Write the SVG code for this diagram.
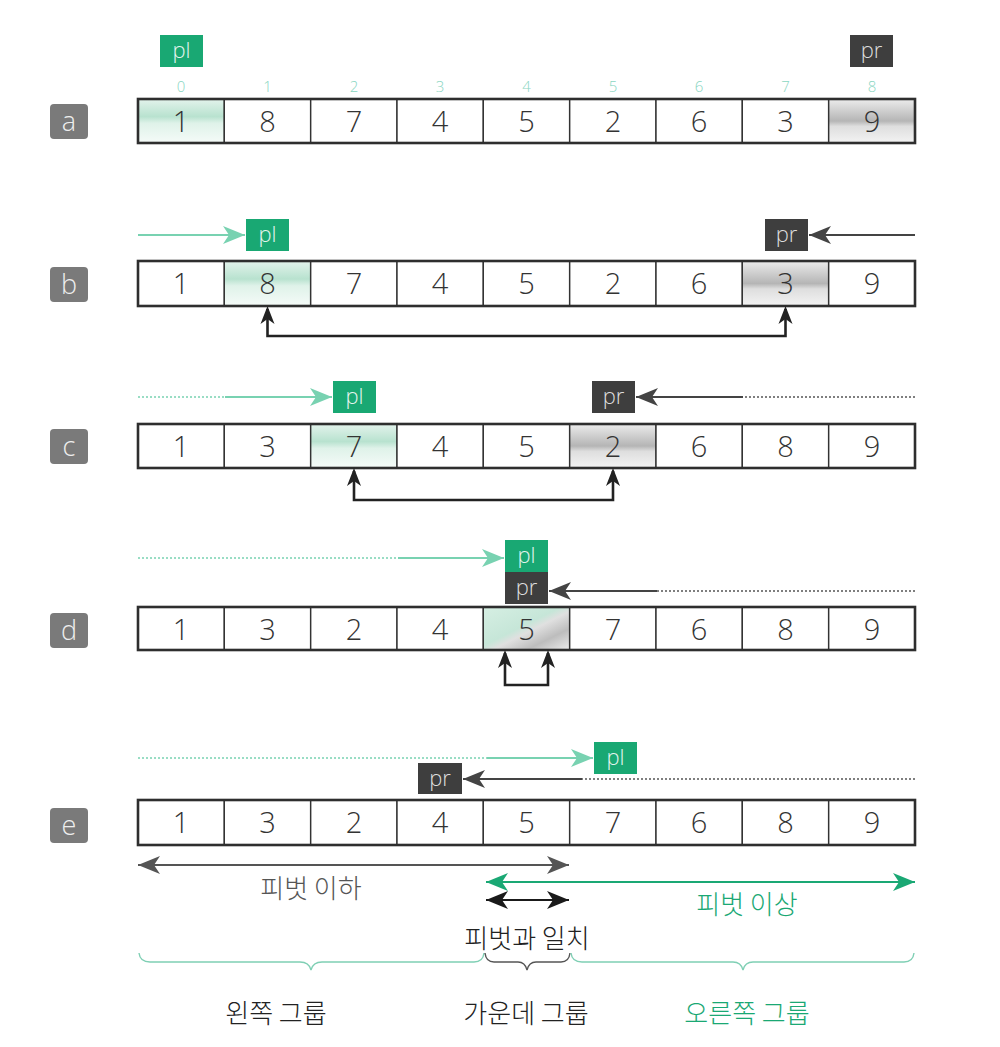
<svg xmlns="http://www.w3.org/2000/svg" width="1000" height="1047" viewBox="0 0 1000 1047">
<defs>
<style>
.cell{fill:#fff;stroke:#333;stroke-width:1.4}
.outer{fill:none;stroke:#2e2e2e;stroke-width:2.6}
.num{font-family:"Open Sans","Liberation Sans",sans-serif;font-weight:300;font-size:29px;fill:#333;text-anchor:middle}
.idx{font-family:"Open Sans","Liberation Sans",sans-serif;font-weight:300;font-size:15px;fill:#8ad6c2;text-anchor:middle}
.lbl{fill:#7a7a7a}
.lbltxt{font-family:"Open Sans","Liberation Sans",sans-serif;font-weight:300;font-size:27px;fill:#eee;text-anchor:middle}
.plbox{fill:#19a873}
.prbox{fill:#3e3e3e}
.ptxt{font-family:"Open Sans","Liberation Sans",sans-serif;font-weight:300;font-size:22px;fill:#e4f4ee;text-anchor:middle}
.prtxt{fill:#ddd}
.garr{stroke:#78d2b1;stroke-width:2;fill:none}
.gdot{stroke:#78d2b1;stroke-width:1.5;stroke-dasharray:2 2;fill:none}
.darr{stroke:#444;stroke-width:2;fill:none}
.ddot{stroke:#555;stroke-width:1.5;stroke-dasharray:2 2;fill:none}
.swap{stroke:#222;stroke-width:2.6;fill:none}
.kr{font-family:"Noto Sans CJK KR",sans-serif;font-size:26px;text-anchor:middle;font-weight:300}
.brace{fill:none;stroke-width:1.4}
</style>
<linearGradient id="gG" x1="0" y1="0" x2="0" y2="1">
<stop offset="0" stop-color="#e3f3ec"/>
<stop offset="0.4" stop-color="#b8e2cf"/>
<stop offset="0.55" stop-color="#dff2e9"/>
<stop offset="1" stop-color="#f5fbf8"/>
</linearGradient>
<linearGradient id="gR" x1="0" y1="0" x2="0" y2="1">
<stop offset="0" stop-color="#ececec"/>
<stop offset="0.5" stop-color="#b5b5b5"/>
<stop offset="0.62" stop-color="#dedede"/>
<stop offset="1" stop-color="#f3f3f3"/>
</linearGradient>
<linearGradient id="gD" x1="0" y1="0" x2="1" y2="1">
<stop offset="0" stop-color="#d6efe3"/>
<stop offset="0.45" stop-color="#c6e6d8"/>
<stop offset="0.55" stop-color="#e0e0e0"/>
<stop offset="0.75" stop-color="#bdbdbd"/>
<stop offset="1" stop-color="#ececec"/>
</linearGradient>
<marker id="mG" markerUnits="userSpaceOnUse" markerWidth="24" markerHeight="20" refX="22" refY="10" orient="auto">
<path d="M0,1 L22,10 L0,19 L6,10 Z" fill="#78d2b1"/>
</marker>
<marker id="mD" markerUnits="userSpaceOnUse" markerWidth="24" markerHeight="20" refX="22" refY="10" orient="auto">
<path d="M0,1 L22,10 L0,19 L6,10 Z" fill="#444"/>
</marker>
<marker id="mDs" markerUnits="userSpaceOnUse" markerWidth="24" markerHeight="20" refX="0" refY="10" orient="auto">
<path d="M0,10 L22,1 L16,10 L22,19 Z" fill="#555"/>
</marker>
<marker id="mDe" markerUnits="userSpaceOnUse" markerWidth="24" markerHeight="20" refX="22" refY="10" orient="auto">
<path d="M0,1 L22,10 L0,19 L6,10 Z" fill="#555"/>
</marker>
<marker id="mGs" markerUnits="userSpaceOnUse" markerWidth="24" markerHeight="20" refX="0" refY="10" orient="auto">
<path d="M0,10 L22,1 L16,10 L22,19 Z" fill="#1aa874"/>
</marker>
<marker id="mGe" markerUnits="userSpaceOnUse" markerWidth="24" markerHeight="20" refX="22" refY="10" orient="auto">
<path d="M0,1 L22,10 L0,19 L6,10 Z" fill="#1aa874"/>
</marker>
<marker id="mKs" markerUnits="userSpaceOnUse" markerWidth="24" markerHeight="20" refX="0" refY="10" orient="auto">
<path d="M0,10 L22,1 L16,10 L22,19 Z" fill="#1a1a1a"/>
</marker>
<marker id="mKe" markerUnits="userSpaceOnUse" markerWidth="24" markerHeight="20" refX="22" refY="10" orient="auto">
<path d="M0,1 L22,10 L0,19 L6,10 Z" fill="#1a1a1a"/>
</marker>
</defs>
<rect width="1000" height="1047" fill="#fff"/>

<!-- Row a -->
<g id="row-a">
<rect class="lbl" x="50" y="104" width="38" height="35" rx="4"/>
<text class="lbltxt" x="69" y="131">a</text>
<g class="idx">
<text x="181" y="92">0</text><text x="267.5" y="92">1</text><text x="354" y="92">2</text><text x="440" y="92">3</text><text x="526.5" y="92">4</text><text x="613" y="92">5</text><text x="699" y="92">6</text><text x="785.5" y="92">7</text><text x="872" y="92">8</text>
</g>
<rect class="cell" x="138" y="99" width="86.3" height="44" style="fill:url(#gG)"/>
<rect class="cell" x="224.3" y="99" width="86.3" height="44"/>
<rect class="cell" x="310.7" y="99" width="86.3" height="44"/>
<rect class="cell" x="397" y="99" width="86.3" height="44"/>
<rect class="cell" x="483.3" y="99" width="86.3" height="44"/>
<rect class="cell" x="569.7" y="99" width="86.3" height="44"/>
<rect class="cell" x="656" y="99" width="86.3" height="44"/>
<rect class="cell" x="742.3" y="99" width="86.3" height="44"/>
<rect class="cell" x="828.7" y="99" width="86.3" height="44" style="fill:url(#gR)"/>
<rect class="outer" x="138" y="99" width="777" height="44"/>
<text class="num" x="181" y="132">1</text><text class="num" x="267.5" y="132">8</text><text class="num" x="354" y="132">7</text><text class="num" x="440" y="132">4</text><text class="num" x="526.5" y="132">5</text><text class="num" x="613" y="132">2</text><text class="num" x="699" y="132">6</text><text class="num" x="785.5" y="132">3</text><text class="num" x="872" y="132">9</text>
</g>
<g id="pl-a"><rect class="plbox" x="160" y="35" width="43" height="32"/><text class="ptxt" x="181.5" y="58">pl</text></g>
<g id="pr-a"><rect class="prbox" x="850" y="35" width="43" height="32"/><text class="ptxt prtxt" x="871.5" y="58">pr</text></g>

<!-- Row b -->
<g id="row-b">
<rect class="lbl" x="50" y="267" width="38" height="35" rx="4"/>
<text class="lbltxt" x="69" y="294">b</text>
<rect class="cell" x="138" y="261" width="86.3" height="45"/>
<rect class="cell" x="224.3" y="261" width="86.3" height="45" style="fill:url(#gG)"/>
<rect class="cell" x="310.7" y="261" width="86.3" height="45"/>
<rect class="cell" x="397" y="261" width="86.3" height="45"/>
<rect class="cell" x="483.3" y="261" width="86.3" height="45"/>
<rect class="cell" x="569.7" y="261" width="86.3" height="45"/>
<rect class="cell" x="656" y="261" width="86.3" height="45"/>
<rect class="cell" x="742.3" y="261" width="86.3" height="45" style="fill:url(#gR)"/>
<rect class="cell" x="828.7" y="261" width="86.3" height="45"/>
<rect class="outer" x="138" y="261" width="777" height="45"/>
<text class="num" x="181" y="294">1</text><text class="num" x="267.5" y="294">8</text><text class="num" x="354" y="294">7</text><text class="num" x="440" y="294">4</text><text class="num" x="526.5" y="294">5</text><text class="num" x="613" y="294">2</text><text class="num" x="699" y="294">6</text><text class="num" x="785.5" y="294">3</text><text class="num" x="872" y="294">9</text>
</g>
<g id="pl-b"><rect class="plbox" x="246" y="219" width="43" height="32"/><text class="ptxt" x="267.5" y="242">pl</text></g>
<g id="pr-b"><rect class="prbox" x="765" y="219" width="43" height="32"/><text class="ptxt prtxt" x="786.5" y="242">pr</text></g>

<!-- Row c -->
<g id="row-c">
<rect class="lbl" x="50" y="429" width="38" height="35" rx="4"/>
<text class="lbltxt" x="69" y="456">c</text>
<rect class="cell" x="138" y="424" width="86.3" height="44"/>
<rect class="cell" x="224.3" y="424" width="86.3" height="44"/>
<rect class="cell" x="310.7" y="424" width="86.3" height="44" style="fill:url(#gG)"/>
<rect class="cell" x="397" y="424" width="86.3" height="44"/>
<rect class="cell" x="483.3" y="424" width="86.3" height="44"/>
<rect class="cell" x="569.7" y="424" width="86.3" height="44" style="fill:url(#gR)"/>
<rect class="cell" x="656" y="424" width="86.3" height="44"/>
<rect class="cell" x="742.3" y="424" width="86.3" height="44"/>
<rect class="cell" x="828.7" y="424" width="86.3" height="44"/>
<rect class="outer" x="138" y="424" width="777" height="44"/>
<text class="num" x="181" y="457">1</text><text class="num" x="267.5" y="457">3</text><text class="num" x="354" y="457">7</text><text class="num" x="440" y="457">4</text><text class="num" x="526.5" y="457">5</text><text class="num" x="613" y="457">2</text><text class="num" x="699" y="457">6</text><text class="num" x="785.5" y="457">8</text><text class="num" x="872" y="457">9</text>
</g>
<g id="pl-c"><rect class="plbox" x="333" y="381" width="43" height="32"/><text class="ptxt" x="354.5" y="404">pl</text></g>
<g id="pr-c"><rect class="prbox" x="592" y="381" width="43" height="32"/><text class="ptxt prtxt" x="613.5" y="404">pr</text></g>

<!-- Row d -->
<g id="row-d">
<rect class="lbl" x="50" y="613" width="38" height="35" rx="4"/>
<text class="lbltxt" x="69" y="640">d</text>
<rect class="cell" x="138" y="607" width="86.3" height="43"/>
<rect class="cell" x="224.3" y="607" width="86.3" height="43"/>
<rect class="cell" x="310.7" y="607" width="86.3" height="43"/>
<rect class="cell" x="397" y="607" width="86.3" height="43"/>
<rect class="cell" x="483.3" y="607" width="86.3" height="43" style="fill:url(#gD)"/>
<rect class="cell" x="569.7" y="607" width="86.3" height="43"/>
<rect class="cell" x="656" y="607" width="86.3" height="43"/>
<rect class="cell" x="742.3" y="607" width="86.3" height="43"/>
<rect class="cell" x="828.7" y="607" width="86.3" height="43"/>
<rect class="outer" x="138" y="607" width="777" height="43"/>
<text class="num" x="181" y="640">1</text><text class="num" x="267.5" y="640">3</text><text class="num" x="354" y="640">2</text><text class="num" x="440" y="640">4</text><text class="num" x="526.5" y="640">5</text><text class="num" x="613" y="640">7</text><text class="num" x="699" y="640">6</text><text class="num" x="785.5" y="640">8</text><text class="num" x="872" y="640">9</text>
</g>
<g id="pl-d"><rect class="plbox" x="505" y="540" width="43" height="32"/><text class="ptxt" x="526.5" y="563">pl</text></g>
<g id="pr-d"><rect class="prbox" x="505" y="572" width="43" height="32"/><text class="ptxt prtxt" x="526.5" y="595">pr</text></g>

<!-- Row e -->
<g id="row-e">
<rect class="lbl" x="50" y="808" width="38" height="35" rx="4"/>
<text class="lbltxt" x="69" y="835">e</text>
<rect class="cell" x="138" y="800" width="86.3" height="45"/>
<rect class="cell" x="224.3" y="800" width="86.3" height="45"/>
<rect class="cell" x="310.7" y="800" width="86.3" height="45"/>
<rect class="cell" x="397" y="800" width="86.3" height="45"/>
<rect class="cell" x="483.3" y="800" width="86.3" height="45"/>
<rect class="cell" x="569.7" y="800" width="86.3" height="45"/>
<rect class="cell" x="656" y="800" width="86.3" height="45"/>
<rect class="cell" x="742.3" y="800" width="86.3" height="45"/>
<rect class="cell" x="828.7" y="800" width="86.3" height="45"/>
<rect class="outer" x="138" y="800" width="777" height="45"/>
<text class="num" x="181" y="833">1</text><text class="num" x="267.5" y="833">3</text><text class="num" x="354" y="833">2</text><text class="num" x="440" y="833">4</text><text class="num" x="526.5" y="833">5</text><text class="num" x="613" y="833">7</text><text class="num" x="699" y="833">6</text><text class="num" x="785.5" y="833">8</text><text class="num" x="872" y="833">9</text>
</g>
<g id="pl-e"><rect class="plbox" x="594" y="742" width="43" height="32"/><text class="ptxt" x="615.5" y="765">pl</text></g>
<g id="pr-e"><rect class="prbox" x="418" y="763" width="44" height="31"/><text class="ptxt prtxt" x="440" y="786">pr</text></g>

<!-- connectors -->
<g id="connectors">
<line class="garr" x1="138" y1="235" x2="245" y2="235" marker-end="url(#mG)"/>
<line class="darr" x1="915" y1="235" x2="809" y2="235" marker-end="url(#mD)"/>
<path class="swap" d="M267.5,309 V336 H785.5 V309" />
<path d="M267.5,306 l-7,18 l7,-5 l7,5 z M785.5,306 l-7,18 l7,-5 l7,5 z" fill="#222"/>

<line class="gdot" x1="138" y1="397" x2="225" y2="397"/>
<line class="garr" x1="225" y1="397" x2="332" y2="397" marker-end="url(#mG)"/>
<line class="ddot" x1="915" y1="397" x2="743" y2="397"/>
<line class="darr" x1="743" y1="397" x2="636" y2="397" marker-end="url(#mD)"/>
<path class="swap" d="M354,471 V500 H613 V471"/>
<path d="M354,468 l-7,18 l7,-5 l7,5 z M613,468 l-7,18 l7,-5 l7,5 z" fill="#222"/>

<line class="gdot" x1="138" y1="558" x2="398" y2="558"/>
<line class="garr" x1="398" y1="558" x2="504" y2="558" marker-end="url(#mG)"/>
<line class="ddot" x1="915" y1="591" x2="657" y2="591"/>
<line class="darr" x1="657" y1="591" x2="549" y2="591" marker-end="url(#mD)"/>
<path class="swap" d="M505,653 V685 H548 V653"/>
<path d="M505,650 l-7,18 l7,-5 l7,5 z M548,650 l-7,18 l7,-5 l7,5 z" fill="#222"/>

<line class="gdot" x1="138" y1="758" x2="487" y2="758"/>
<line class="garr" x1="487" y1="758" x2="593" y2="758" marker-end="url(#mG)"/>
<line class="ddot" x1="915" y1="779" x2="582" y2="779"/>
<line class="darr" x1="582" y1="779" x2="463" y2="779" marker-end="url(#mD)"/>

<line x1="138" y1="865" x2="569" y2="865" stroke="#555" stroke-width="2" marker-start="url(#mDs)" marker-end="url(#mDe)"/>
<line x1="486" y1="882" x2="915" y2="882" stroke="#1aa874" stroke-width="2" marker-start="url(#mGs)" marker-end="url(#mGe)"/>
<line x1="486" y1="900" x2="569" y2="900" stroke="#1a1a1a" stroke-width="2" marker-start="url(#mKs)" marker-end="url(#mKe)"/>

<path class="brace" stroke="#7fcfb4" d="M139,953 Q140,962 150,962 H300 Q309,962 311,970 Q313,962 322,962 H474 Q483,962 484,953"/>
<path class="brace" stroke="#555" d="M485,953 Q486,962 494,962 H518 Q525,962 527,970 Q529,962 536,962 H561 Q569,962 570,953"/>
<path class="brace" stroke="#7fcfb4" d="M571,953 Q572,962 582,962 H733 Q741,962 743,970 Q745,962 753,962 H904 Q913,962 914,953"/>
</g>

<g id="labels">
<text class="kr" x="311" y="898" fill="#555">피벗 이하</text>
<text class="kr" x="747" y="914" fill="#1aa874">피벗 이상</text>
<text class="kr" x="527" y="948" fill="#222">피벗과 일치</text>
<text class="kr" x="276" y="1023" fill="#222">왼쪽 그룹</text>
<text class="kr" x="526" y="1023" fill="#222">가운데 그룹</text>
<text class="kr" x="747" y="1023" fill="#1aa874">오른쪽 그룹</text>
</g>
</svg>
